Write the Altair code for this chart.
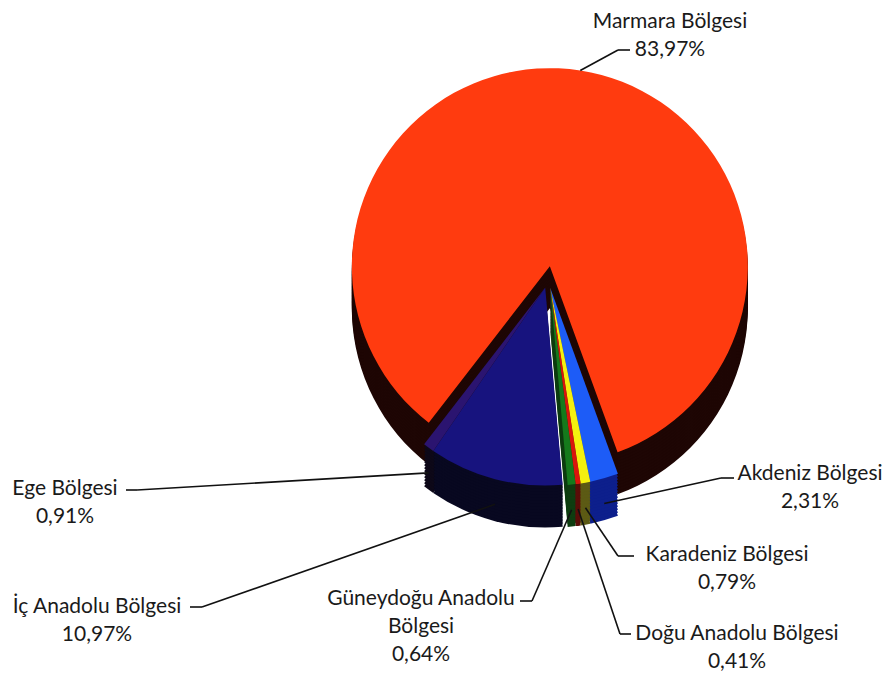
import math
import altair as alt
import pandas as pd

# ---------------- data ----------------
regions = ["Marmara", "Akdeniz", "Karadeniz", "Doğu Anadolu",
           "Güneydoğu Anadolu", "İç Anadolu", "Ege"]
label_names = ["Marmara Bölgesi", "Akdeniz Bölgesi", "Karadeniz Bölgesi",
               "Doğu Anadolu Bölgesi", "Güneydoğu Anadolu\nBölgesi",
               "İç Anadolu Bölgesi", "Ege Bölgesi"]
shares = [83.97, 2.31, 0.79, 0.41, 0.64, 10.97, 0.91]

# ---------------- styles ----------------
top_colors = ["#ff3b0f", "#1d5cf7", "#f4f00f", "#d9140c", "#157a1c", "#17137e", "#2b1470"]
side_colors = ["#1e0604", "#0d1f8c", "#5c5a14", "#5a0c08", "#0e3d10", "#080820", "#0d0818"]

# ---------------- layout ----------------
W, H = 880, 665
CX, CY = 540, 270          # pie centre (chart px)
R = 198                    # pie radius
DEPTH = 42                 # 3-D thickness
ROTATION_DEG = -142.3      # angle where the first slice starts
A0 = math.radians(ROTATION_DEG)
# exploded groups (back to front) and their separation in px
groups = [(["Marmara"], 12),
          (["İç Anadolu", "Ege"], 10),
          (["Akdeniz", "Karadeniz", "Doğu Anadolu", "Güneydoğu Anadolu"], 10)]

# label layout: text centre x, text top y, tick end next to text, tick outer end, tick y
label_layout = {
    "Marmara":           (662, 3,   622, 610, 42),
    "Akdeniz":           (802, 455, 726, 713, 470),
    "Karadeniz":         (719, 536, 626, 610, 548),
    "Doğu Anadolu":      (729, 615, 623, 612, 626),
    "Güneydoğu Anadolu": (413, 580, 512, 524, 593),
    "İç Anadolu":        (89,  588, 182, 194, 599),
    "Ege":               (57,  470, 118, 129, 482),
}

# ---------------- tables ----------------
rows = []
cum = 0.0
for i, (reg, name, v) in enumerate(zip(regions, label_names, shares)):
    start, end = cum, cum + v
    cum = end
    rows.append({
        "region": reg, "order": i, "value": v, "start": start, "end": end,
        "top": top_colors[i], "side": side_colors[i],
        "label": name + "\n" + f"{v:.2f}".replace(".", ",") + "%",
    })
df = pd.DataFrame(rows)
by_region = {r["region"]: r for r in rows}


def ang(p):
    return A0 + p / 100 * 2 * math.pi


# centre offset of each exploded group, along the group's middle angle
group_off = {}
for members, dist in groups:
    s = min(by_region[m]["start"] for m in members)
    e = max(by_region[m]["end"] for m in members)
    a = ang((s + e) / 2)
    off = (dist * math.sin(a), -dist * math.cos(a))
    for m in members:
        group_off[m] = off

# leader lines (end point on the slice rim, derived from the slice angle)
leaders = []
for r in rows:
    lx, ly, tn, to, ty = label_layout[r["region"]]
    mid = ang(r["start"] + r["value"] / 2)
    ox, oy = group_off[r["region"]]
    px = CX + ox + R * math.sin(mid)
    py = CY + oy - R * math.cos(mid)
    if math.cos(mid) < -0.2:
        py += DEPTH * 0.6
    leaders.append({"x1": tn, "y1": ty, "x2": to, "y2": ty})
    leaders.append({"x1": to, "y1": ty, "x2": px, "y2": py})
lead_df = pd.DataFrame(leaders)

lab_df = pd.DataFrame([{
    "label": r["label"],
    "lx": label_layout[r["region"]][0],
    "ly": label_layout[r["region"]][1],
} for r in rows])

theta = alt.Theta("start:Q", scale=alt.Scale(domain=[0, 100], range=[A0, A0 + 2 * math.pi]))
theta2 = alt.Theta2("end:Q")

base = alt.Chart(df)


def slab(members, dx, dy, colfield):
    src = base.transform_filter(alt.FieldOneOfPredicate(field="region", oneOf=members))
    return src.mark_arc(radius=R, strokeWidth=0).encode(
        theta=theta, theta2=theta2,
        color=alt.Color(f"{colfield}:N", scale=None),
        x=alt.value(CX + dx), y=alt.value(CY + dy),
    )


layers = []
for members, _ in groups:
    ox, oy = group_off[members[0]]
    for k in range(DEPTH, 0, -3):
        layers.append(slab(members, ox, oy + k, "side"))
for members, _ in groups:
    ox, oy = group_off[members[0]]
    layers.append(slab(members, ox, oy, "top"))

rules = alt.Chart(lead_df).mark_rule(color="#111111", strokeWidth=1.6).encode(
    x=alt.X("x1:Q", scale=None, axis=None),
    y=alt.Y("y1:Q", scale=None, axis=None),
    x2="x2:Q", y2="y2:Q",
)

texts = alt.Chart(lab_df).mark_text(
    font="Lato", fontSize=21, align="center", baseline="top",
    lineBreak="\n", lineHeight=28, color="#1a1a1a",
).encode(
    x=alt.X("lx:Q", scale=None, axis=None),
    y=alt.Y("ly:Q", scale=None, axis=None),
    text="label:N",
)

chart = alt.layer(*layers, rules, texts).properties(
    width=W, height=H, padding=0, autosize="none"
).configure_view(stroke="transparent")

chart.save("out.html", embed_options={"renderer": "svg", "actions": False})
